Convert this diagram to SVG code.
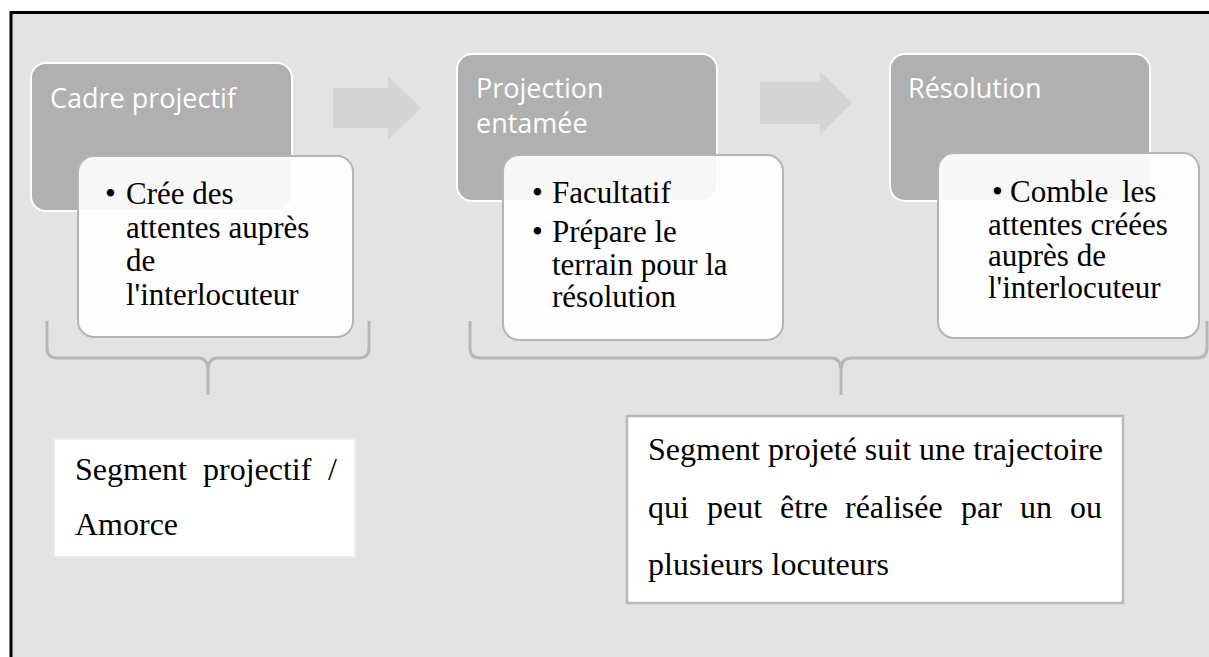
<svg xmlns="http://www.w3.org/2000/svg" width="1209" height="657" viewBox="0 0 1209 657">
<style>
.frame{fill:#e3e3e3}
.dark{fill:#b0b0b0;stroke:#ffffff;stroke-width:2}
.card{fill:#ffffff;fill-opacity:0.9;stroke:#b4b4b4;stroke-width:2}
.arrow{fill:#d5d5d5}
.title{font-family:"Open Sans","Noto Sans",sans-serif;font-size:27px;fill:#ffffff}
.body{font-family:"Liberation Serif","Times New Roman",serif;font-size:31px;fill:#000000}
.note{font-family:"Liberation Serif","Times New Roman",serif;font-size:32px;fill:#000000}
.brace{fill:none;stroke:#b7b7b7;stroke-width:3;stroke-linejoin:round}
</style>
<rect x="0" y="0" width="1209" height="657" fill="#ffffff"/>
<rect class="frame" x="11" y="12" width="1198" height="645"/>
<path d="M11 657 V12.5 H1209" fill="none" stroke="#000000" stroke-width="3"/>

<g id="connectors">
  <polygon class="arrow" points="333,88 388,88 388,76 421,108 388,140 388,128 333,128"/>
  <polygon class="arrow" points="760,82 820,82 820,71 852,103 820,135 820,124 760,124"/>
  <path class="brace" d="M47 321 V348 Q47 358 57 358 H198 Q208 358 208 370 V395 M208 370 Q208 358 218 358 H359 Q369 358 369 348 V321"/>
  <path class="brace" d="M470 321 V348 Q470 358 480 358 H831 Q841 358 841 370 V395 M841 370 Q841 358 851 358 H1197 Q1207 358 1207 348 V321"/>
</g>

<g id="cadre">
  <rect class="dark" x="31" y="63" width="261" height="148" rx="15"/>
  <text class="title" x="50" y="108">Cadre projectif</text>
</g>
<g id="cadre-detail">
  <rect class="card" x="78" y="156" width="275" height="181" rx="16"/>
  <text class="body" x="105" y="204">•</text>
  <text class="body" x="126" y="204">Crée des</text>
  <text class="body" x="126" y="237.5">attentes auprès</text>
  <text class="body" x="126" y="271">de</text>
  <text class="body" x="126" y="304.5">l'interlocuteur</text>
</g>

<g id="projection">
  <rect class="dark" x="457" y="54" width="260" height="147" rx="15"/>
  <text class="title" x="476" y="98">Projection</text>
  <text class="title" x="476" y="133">entamée</text>
</g>
<g id="projection-detail">
  <rect class="card" x="503" y="155" width="280" height="185" rx="16"/>
  <text class="body" x="532" y="203">•</text>
  <text class="body" x="552" y="203">Facultatif</text>
  <text class="body" x="532" y="242">•</text>
  <text class="body" x="552" y="242">Prépare le</text>
  <text class="body" x="552" y="275">terrain pour la</text>
  <text class="body" x="552" y="307">résolution</text>
</g>

<g id="resolution">
  <rect class="dark" x="890" y="54" width="260" height="147" rx="15"/>
  <text class="title" x="908" y="98">Résolution</text>
</g>
<g id="resolution-detail">
  <rect class="card" x="938" y="153" width="261" height="185" rx="16"/>
  <text class="body" x="992" y="202">•</text>
  <text class="body" y="202"><tspan x="1010">Comble</tspan><tspan x="1122">les</tspan></text>
  <text class="body" x="988" y="234.5">attentes créées</text>
  <text class="body" x="988" y="266">auprès de</text>
  <text class="body" x="988" y="298">l'interlocuteur</text>
</g>

<g id="amorce">
  <rect x="54" y="439" width="301" height="118" fill="#ffffff" stroke="#ebebeb" stroke-width="2"/>
  <text class="note" y="480"><tspan x="75">Segment</tspan><tspan x="203">projectif</tspan><tspan x="328">/</tspan></text>
  <text class="note" x="75" y="535">Amorce</text>
</g>

<g id="segment-projete">
  <rect x="627" y="416" width="496" height="187" fill="#ffffff" stroke="#b8b8b8" stroke-width="2.5"/>
  <text class="note" x="648" y="460">Segment projeté suit une trajectoire</text>
  <text class="note" y="518"><tspan x="648">qui</tspan><tspan x="707">peut</tspan><tspan x="780">être</tspan><tspan x="845">réalisée</tspan><tspan x="961">par</tspan><tspan x="1020">un</tspan><tspan x="1070">ou</tspan></text>
  <text class="note" x="648" y="575">plusieurs locuteurs</text>
</g>
</svg>
